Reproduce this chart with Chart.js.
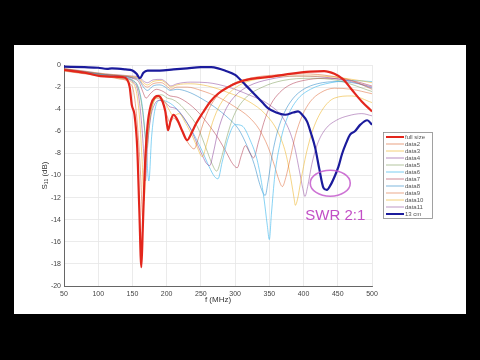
<!DOCTYPE html>
<html>
<head>
<meta charset="utf-8">
<script src="https://cdn.jsdelivr.net/npm/chart.js@4.4.0/dist/chart.umd.min.js"></script>
<style>
  html, body { margin: 0; padding: 0; background: #000; }
  #s11Chart { position: absolute; left: 0; top: 0; }
</style>
</head>
<body>
<canvas id="s11Chart" width="480" height="360"></canvas>
<script>
// frequency (MHz) / S11 (dB), one pair of arrays per trace
const fullF = [50,80,103,120,136,142,146,149,153,157,160,163,165,168,172,177,183,188,194,198,202,206,210,216,223,230,236,243,253,264,275,290,303,320,347,380,410,430,445,458,470,485,500];
const fullDb = [-0.45,-0.7,-1.0,-1.05,-1.1,-1.3,-2.0,-3.6,-4.5,-7.5,-13,-18.3,-15,-9.5,-5.5,-3.6,-2.9,-2.8,-3.3,-4.2,-5.9,-5.0,-4.5,-5.0,-6.0,-6.8,-6.2,-5.3,-4.3,-3.3,-2.6,-2.0,-1.6,-1.3,-1.1,-0.8,-0.6,-0.55,-0.8,-1.3,-2.2,-3.3,-4.2];

const d2F = [50,80,110,130,145,152,158,162,165,168,172,178,186,194,200,205,210,218,226,233,240,247,255,265,280,300,330,360,400,440,470,500];
const d2Db = [-0.55,-0.8,-1.05,-1.25,-1.6,-2.5,-6,-10,-13.8,-10,-6,-3.6,-3.0,-3.4,-4.5,-5.2,-4.8,-5.4,-6.5,-7.2,-7.6,-6.5,-5.0,-3.6,-2.4,-1.6,-1.1,-0.9,-0.8,-1.0,-1.4,-2.2];

const d3F = [50,80,110,130,147,155,160,164,167,170,174,180,188,196,203,210,218,228,238,245,252,259,267,278,292,310,340,380,420,460,500];
const d3Db = [-0.5,-0.75,-1.0,-1.2,-1.5,-2.2,-4.5,-8.5,-12.3,-8.5,-5.5,-3.5,-2.9,-3.2,-4.0,-4.6,-4.4,-5.3,-6.5,-7.5,-8.3,-7.0,-5.2,-3.6,-2.5,-1.7,-1.2,-1.0,-1.0,-1.2,-1.6];

const d4F = [50,80,110,135,150,158,163,167,169,172,176,182,190,198,205,212,222,235,245,253,258,263,268,275,285,300,320,350,390,430,470,500];
const d4Db = [-0.45,-0.72,-0.98,-1.2,-1.5,-2.4,-5,-8.5,-10.5,-7.5,-5,-3.6,-3.2,-3.4,-3.8,-3.9,-4.5,-5.8,-7.2,-8.3,-8.9,-9.1,-8.0,-6.0,-4.2,-2.8,-1.9,-1.3,-1.0,-1.1,-1.5,-2.0];

const d5F = [50,80,110,135,150,158,164,168,171,174,178,185,193,201,208,218,230,245,258,266,273,280,288,298,315,340,370,410,450,500];
const d5Db = [-0.42,-0.7,-0.95,-1.15,-1.4,-2.0,-3.8,-6,-7.5,-5.8,-4.0,-2.9,-2.7,-3.0,-3.1,-3.5,-4.3,-5.6,-7.6,-8.9,-9.6,-8.4,-6.5,-4.6,-3.0,-2.0,-1.4,-1.2,-1.4,-2.4];

const d6F = [50,80,110,135,150,160,166,170,174,178,183,190,200,212,225,240,252,262,270,275,281,290,300,310,322,333,342,347,350,353,358,366,376,390,410,440,470,500];
const d6Db = [-0.4,-0.68,-0.92,-1.1,-1.35,-2.3,-4.5,-7.5,-10.5,-6.5,-4.0,-3.2,-3.3,-3.8,-4.8,-6.3,-7.8,-9.2,-10.1,-10.3,-8.8,-6.6,-5.4,-5.5,-6.8,-8.8,-12,-14.5,-15.8,-13.5,-10,-7,-4.8,-3.2,-2.2,-1.6,-1.4,-1.5];

const d7F = [50,80,110,135,150,160,165,170,176,185,195,205,215,230,245,260,275,288,296,303,309,315,321,327,334,342,352,365,380,400,430,470,500];
const d7Db = [-0.4,-0.65,-0.9,-1.05,-1.2,-1.6,-2.4,-3.0,-2.6,-2.2,-2.4,-2.8,-2.9,-3.4,-4.2,-5.3,-6.6,-8.0,-8.9,-9.3,-8.2,-7.3,-7.9,-8.4,-7.0,-5.2,-3.6,-2.5,-1.8,-1.4,-1.2,-1.4,-1.9];

const d8F = [50,80,110,135,150,160,166,172,180,190,198,205,215,230,250,270,290,305,318,328,336,341,344,348,354,362,372,385,400,420,450,480,500];
const d8Db = [-0.38,-0.62,-0.88,-1.0,-1.15,-1.4,-2.0,-2.3,-1.9,-1.8,-2.0,-2.3,-2.2,-2.4,-3.0,-3.8,-4.8,-5.8,-7.4,-9.0,-10.8,-11.6,-11.8,-10.6,-8.2,-6.0,-4.3,-3.0,-2.2,-1.7,-1.5,-1.7,-2.1];

const d9F = [50,80,110,135,150,160,166,172,180,192,200,206,215,230,250,275,300,320,335,348,358,364,369,374,380,388,398,410,425,445,470,500];
const d9Db = [-0.36,-0.6,-0.85,-0.98,-1.1,-1.3,-1.8,-2.0,-1.7,-1.6,-1.9,-2.2,-2.0,-2.0,-2.3,-2.9,-3.8,-4.7,-5.8,-7.4,-9.2,-10.4,-11.0,-10.2,-8.6,-6.4,-4.6,-3.3,-2.5,-2.1,-2.2,-2.6];

const d10F = [50,80,110,135,150,160,166,172,180,192,200,206,215,235,260,290,320,345,362,374,382,386,388,391,396,404,414,428,445,470,500];
const d10Db = [-0.34,-0.58,-0.82,-0.95,-1.05,-1.2,-1.6,-1.8,-1.5,-1.4,-1.7,-2.0,-1.8,-1.7,-1.9,-2.5,-3.3,-4.5,-6.0,-8.0,-10.5,-12.0,-12.7,-12.2,-10.5,-8.0,-5.8,-4.0,-3.0,-2.8,-3.4];

const d11F = [50,80,110,135,150,160,166,172,180,192,200,206,215,235,260,290,320,350,372,386,394,399,402,406,412,420,432,448,465,485,500];
const d11Db = [-0.32,-0.55,-0.8,-0.92,-1.0,-1.1,-1.45,-1.6,-1.35,-1.3,-1.6,-1.9,-1.7,-1.55,-1.6,-2.0,-2.7,-3.6,-5.0,-7.2,-9.6,-11.2,-11.9,-11.0,-9.0,-7.2,-5.8,-5.0,-4.6,-4.4,-4.6];

const cm13F = [50,80,100,113,120,140,150,156,161,166,172,190,210,230,250,265,275,285,300,315,329,340,348,360,373,385,392,398,405,411,417,423,429,434,440,446,451,456,462,468,475,483,493,500];
const cm13Db = [-0.15,-0.2,-0.25,-0.35,-0.3,-0.4,-0.5,-0.8,-1.2,-0.7,-0.5,-0.5,-0.4,-0.3,-0.2,-0.2,-0.3,-0.5,-0.9,-1.8,-2.7,-3.4,-3.9,-4.3,-4.5,-4.3,-4.2,-4.5,-5.1,-6.2,-7.5,-9.4,-11.1,-11.3,-10.8,-10.0,-9.2,-8.1,-7.1,-6.3,-6.0,-5.4,-5.0,-5.4];

const xTicks = [50, 500, 50];   // min, max, step
const yTicks = [-20, 0, 2];
const swrNote = 'SWR 2:1';
const swrAt = [439, -10.7];    // MHz, dB

const toPts = (f, db) => f.map((v, i) => ({ x: v, y: db[i] }));

const thin = (label, f, db, color) => ({
    label, data: toPts(f, db), borderColor: color, borderWidth: 0.9, order: 1
});

const datasets = [
    { label: 'full size', data: toPts(fullF, fullDb), borderColor: '#e3261c', borderWidth: 2.2, order: 0 },
    thin('data2', d2F, d2Db, 'rgba(217, 83, 25, 0.55)'),
    thin('data3', d3F, d3Db, 'rgba(237, 177, 32, 0.6)'),
    thin('data4', d4F, d4Db, 'rgba(126, 47, 142, 0.55)'),
    thin('data5', d5F, d5Db, 'rgba(119, 150, 80, 0.55)'),
    thin('data6', d6F, d6Db, 'rgba(77, 190, 238, 0.75)'),
    thin('data7', d7F, d7Db, 'rgba(162, 20, 47, 0.5)'),
    thin('data8', d8F, d8Db, 'rgba(0, 114, 189, 0.5)'),
    thin('data9', d9F, d9Db, 'rgba(217, 83, 25, 0.5)'),
    thin('data10', d10F, d10Db, 'rgba(237, 177, 32, 0.6)'),
    thin('data11', d11F, d11Db, 'rgba(126, 47, 142, 0.5)'),
    { label: '13 cm', data: toPts(cm13F, cm13Db), borderColor: '#1b1b9c', borderWidth: 2.2, order: 0 }
];

const slideBg = {
    id: 'slideBg',
    beforeDraw(chart) {
        const c = chart.ctx;
        c.save();
        c.fillStyle = '#000';
        c.fillRect(0, 0, chart.width, chart.height);
        c.fillStyle = '#fff';
        c.fillRect(14, 45, 452, 269);
        c.restore();
    }
};

const overlay = {
    id: 'overlay',
    afterDraw(chart) {
        const c = chart.ctx;
        const { x, y } = chart.scales;
        const area = chart.chartArea;
        c.save();

        // axis titles
        c.fillStyle = '#333';
        c.textAlign = 'center';
        c.textBaseline = 'middle';
        c.font = '8px "Liberation Sans", Arial, sans-serif';
        c.fillText('f (MHz)', (area.left + area.right) / 2, 300);
        c.save();
        c.translate(45, (area.top + area.bottom) / 2);
        c.rotate(-Math.PI / 2);
        c.fillText('S\u2081\u2081 (dB)', 0, 0);
        c.restore();

        // legend box
        const lx = 383, ly = 132, lw = 49, lh = 86, row = 7;
        c.fillStyle = '#fff';
        c.fillRect(lx, ly, lw, lh);
        c.strokeStyle = '#8a8a8a';
        c.lineWidth = 0.8;
        c.strokeRect(lx + 0.5, ly + 0.5, lw, lh);
        c.font = '6px "Liberation Sans", Arial, sans-serif';
        c.textAlign = 'left';
        chart.data.datasets.forEach((ds, i) => {
            const ry = ly + 5 + i * row;
            c.strokeStyle = ds.borderColor;
            c.lineWidth = ds.borderWidth > 2 ? 2 : 1;
            c.beginPath();
            c.moveTo(lx + 3, ry);
            c.lineTo(lx + 21, ry);
            c.stroke();
            c.fillStyle = '#555';
            c.fillText(ds.label, lx + 22, ry + 0.5);
        });

        // SWR 2:1 marker
        const cx = x.getPixelForValue(swrAt[0]);
        const cy = y.getPixelForValue(swrAt[1]);
        c.strokeStyle = 'rgba(196, 90, 204, 0.85)';
        c.lineWidth = 1.6;
        c.beginPath();
        c.ellipse(cx, cy, 20, 13, 0, 0, Math.PI * 2);
        c.stroke();
        c.fillStyle = '#c24fc6';
        c.font = '15px "Liberation Sans", Arial, sans-serif';
        c.textAlign = 'center';
        c.textBaseline = 'alphabetic';
        c.fillText(swrNote, cx + 5, cy + 37);

        c.restore();
    }
};

new Chart(document.getElementById('s11Chart'), {
    type: 'line',
    data: { datasets },
    options: {
        responsive: false,
        animation: false,
        devicePixelRatio: 1,
        parsing: true,
        elements: {
            point: { radius: 0 },
            line: { cubicInterpolationMode: 'monotone', fill: false }
        },
        layout: { padding: { left: 0, top: 65, right: 108, bottom: 0 } },
        plugins: { legend: { display: false }, tooltip: { enabled: false } },
        scales: {
            x: {
                type: 'linear',
                min: xTicks[0],
                max: xTicks[1],
                afterFit(s) { s.height = 74; },
                grid: { color: '#e6e6e6', drawTicks: false, lineWidth: 0.8 },
                border: { color: '#666', width: 1 },
                ticks: {
                    stepSize: xTicks[2],
                    padding: 4,
                    color: '#444',
                    font: { size: 7, family: '"Liberation Sans", Arial, sans-serif' }
                }
            },
            y: {
                min: yTicks[0],
                max: yTicks[1],
                afterFit(s) { s.width = 64; },
                grid: { color: '#e6e6e6', drawTicks: false, lineWidth: 0.8 },
                border: { color: '#666', width: 1 },
                ticks: {
                    stepSize: yTicks[2],
                    padding: 3,
                    color: '#444',
                    font: { size: 7, family: '"Liberation Sans", Arial, sans-serif' }
                }
            }
        }
    },
    plugins: [slideBg, overlay]
});
</script>
</body>
</html>
